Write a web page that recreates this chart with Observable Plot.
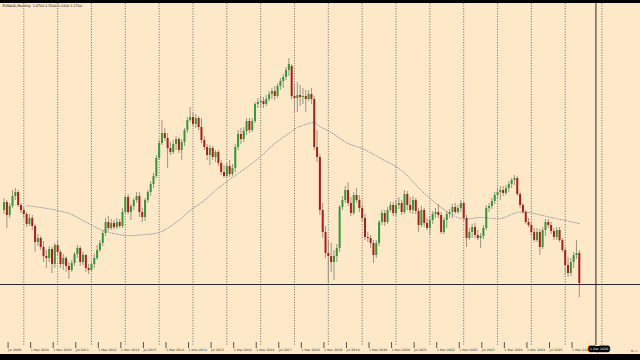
<!DOCTYPE html>
<html><head><meta charset="utf-8">
<script src="https://cdn.jsdelivr.net/npm/d3@7"></script>
<script src="https://cdn.jsdelivr.net/npm/@observablehq/plot@0.6"></script>
<style>
html,body{margin:0;padding:0;background:#000;width:640px;height:360px;overflow:hidden}
#chart{position:absolute;left:0;top:3px;width:640px;}
#chart svg{display:block}
</style></head><body><div id="chart"></div>
<script>
const title = "EURAUD,Monthly  1.4700 1.5000 1.0300 1.1700";
const firstMonth = -7; // months relative to Jan 2010 (Jun 2009)

const open = [1.90,1.98,1.85,1.94,2.04,2.08,1.95,
1.90,1.86,1.76,1.82,1.74,1.58,1.62,1.53,1.44,1.42,1.51,1.36,
1.55,1.48,1.36,1.42,1.34,1.30,1.37,1.46,1.52,1.38,1.45,1.32,
1.30,1.36,1.42,1.50,1.57,1.67,1.78,1.72,1.77,1.73,1.78,1.74,
1.88,2.03,1.88,1.94,2.00,2.04,1.88,1.83,2.00,2.08,2.16,2.24,
2.42,2.57,2.67,2.62,2.52,2.48,2.56,2.61,2.50,2.58,2.70,2.80,
2.83,2.76,2.82,2.73,2.60,2.53,2.45,2.52,2.43,2.48,2.37,2.28,
2.24,2.34,2.26,2.32,2.53,2.66,2.61,2.69,2.79,2.70,2.79,2.96,
2.98,2.99,2.96,3.01,3.06,3.09,3.04,3.14,3.19,3.23,3.30,3.34,
3.04,3.02,3.05,3.03,3.04,3.01,3.06,3.01,2.53,2.43,1.90,1.68,
1.47,1.44,1.38,1.44,1.52,1.93,2.00,2.10,1.97,1.87,2.05,2.00,
1.92,1.82,1.63,1.62,1.57,1.45,1.57,1.78,1.87,1.78,1.90,1.95,
1.87,1.95,1.97,1.88,2.06,1.95,1.90,2.00,1.89,1.75,1.90,1.77,
1.72,1.80,1.86,1.88,1.85,1.68,1.80,1.86,1.88,1.93,1.88,1.92,
1.97,1.82,1.62,1.68,1.73,1.65,1.62,1.64,1.72,1.92,1.94,1.99,
2.05,2.08,2.10,2.07,2.12,2.16,2.20,2.22,2.06,1.95,1.88,1.78,
1.75,1.68,1.60,1.68,1.53,1.70,1.78,1.75,1.69,1.63,1.70,1.60,
1.50,1.35,1.27,1.38,1.45,1.47];

const high = [2.02,2.00,1.97,2.10,2.12,2.10,1.97,
1.93,1.88,1.86,1.85,1.76,1.66,1.64,1.59,1.50,1.54,1.53,1.57,
1.60,1.50,1.46,1.44,1.38,1.40,1.48,1.55,1.54,1.48,1.46,1.36,
1.38,1.46,1.55,1.60,1.70,1.82,1.84,1.81,1.80,1.82,1.81,1.92,
2.05,2.06,1.96,2.02,2.08,2.08,1.92,2.02,2.10,2.19,2.27,2.45,
2.60,2.80,2.72,2.67,2.58,2.60,2.64,2.63,2.61,2.72,2.83,2.93,
2.87,2.86,2.84,2.82,2.64,2.56,2.55,2.54,2.50,2.50,2.40,2.35,
2.37,2.40,2.36,2.56,2.70,2.72,2.73,2.82,2.82,2.82,2.98,3.02,
3.04,3.03,3.05,3.09,3.12,3.14,3.17,3.22,3.26,3.33,3.42,3.36,
3.17,3.18,3.15,3.12,3.10,3.10,3.12,3.04,2.70,2.46,1.97,1.74,
1.60,1.57,1.50,1.56,1.95,2.04,2.14,2.18,2.03,2.08,2.12,2.05,
1.95,1.86,1.68,1.65,1.60,1.60,1.80,1.90,1.90,1.93,1.98,1.98,
2.00,2.03,2.00,2.10,2.09,2.03,2.04,2.02,1.92,1.94,1.92,1.82,
1.84,1.89,1.92,1.96,1.88,1.83,1.89,1.91,1.96,1.97,1.95,2.00,
1.99,1.85,1.72,1.76,1.77,1.70,1.67,1.75,1.95,1.97,2.02,2.08,
2.12,2.14,2.14,2.15,2.19,2.22,2.25,2.24,2.08,1.97,1.90,1.82,
1.78,1.72,1.72,1.71,1.73,1.81,1.81,1.78,1.72,1.73,1.73,1.62,
1.53,1.43,1.42,1.48,1.60,1.50];

const low = [1.86,1.72,1.82,1.92,2.00,1.93,1.87,
1.82,1.73,1.74,1.70,1.48,1.54,1.50,1.38,1.32,1.38,1.27,1.32,
1.44,1.32,1.30,1.28,1.21,1.28,1.34,1.42,1.34,1.35,1.28,1.26,
1.28,1.32,1.40,1.48,1.54,1.64,1.69,1.70,1.71,1.71,1.72,1.72,
1.86,1.86,1.80,1.90,1.97,1.83,1.78,1.79,1.97,2.04,2.12,2.22,
2.40,2.55,2.59,2.32,2.45,2.46,2.50,2.47,2.40,2.54,2.67,2.78,
2.73,2.72,2.70,2.57,2.50,2.40,2.35,2.40,2.38,2.34,2.25,2.22,
2.22,2.23,2.24,2.28,2.50,2.56,2.58,2.65,2.67,2.68,2.77,2.92,
2.92,2.92,2.94,2.99,3.01,3.00,3.02,3.10,3.12,3.20,3.24,3.01,
2.87,2.88,2.94,2.96,2.88,2.99,2.96,2.50,2.38,1.85,1.62,1.42,
1.17,1.28,1.20,1.38,1.48,1.90,1.97,1.94,1.84,1.85,1.97,1.88,
1.78,1.60,1.58,1.52,1.37,1.42,1.54,1.75,1.74,1.76,1.88,1.84,
1.84,1.91,1.85,1.86,1.90,1.87,1.86,1.86,1.68,1.73,1.73,1.70,
1.65,1.76,1.82,1.82,1.66,1.66,1.72,1.82,1.82,1.86,1.86,1.88,
1.79,1.53,1.60,1.62,1.62,1.60,1.52,1.61,1.70,1.88,1.91,1.96,
2.02,2.00,2.04,2.05,2.08,2.12,2.15,2.04,1.92,1.86,1.76,1.73,
1.64,1.58,1.58,1.45,1.51,1.64,1.72,1.66,1.60,1.60,1.58,1.48,
1.25,1.23,1.24,1.32,1.41,1.03];

const close = [1.98,1.85,1.94,2.04,2.08,1.95,1.90,
1.86,1.76,1.82,1.74,1.58,1.62,1.53,1.44,1.42,1.51,1.36,1.55,
1.48,1.36,1.42,1.34,1.30,1.37,1.46,1.52,1.38,1.45,1.32,1.30,
1.36,1.42,1.50,1.57,1.67,1.78,1.72,1.77,1.73,1.78,1.74,1.88,
2.03,1.88,1.94,2.00,2.04,1.88,1.83,2.00,2.08,2.16,2.24,2.42,
2.57,2.67,2.62,2.52,2.48,2.56,2.61,2.50,2.58,2.70,2.80,2.83,
2.76,2.82,2.73,2.60,2.53,2.45,2.52,2.43,2.48,2.37,2.28,2.24,
2.34,2.26,2.32,2.53,2.66,2.61,2.69,2.79,2.70,2.79,2.96,2.98,
2.99,2.96,3.01,3.06,3.09,3.04,3.14,3.19,3.23,3.30,3.36,3.04,
3.02,3.05,3.03,3.04,3.01,3.06,3.01,2.53,2.43,1.90,1.68,1.47,
1.44,1.38,1.44,1.52,1.93,2.00,2.10,1.97,1.87,2.05,2.00,1.92,
1.82,1.63,1.62,1.57,1.45,1.57,1.78,1.87,1.78,1.90,1.95,1.87,
1.95,1.97,1.88,2.06,1.95,1.90,2.00,1.89,1.75,1.90,1.77,1.72,
1.80,1.86,1.88,1.85,1.68,1.80,1.86,1.88,1.93,1.88,1.92,1.97,
1.82,1.62,1.68,1.73,1.65,1.62,1.64,1.72,1.92,1.94,1.99,2.05,
2.08,2.10,2.07,2.12,2.16,2.20,2.22,2.06,1.95,1.88,1.78,1.75,
1.68,1.60,1.68,1.53,1.70,1.78,1.75,1.69,1.63,1.70,1.60,1.50,
1.35,1.27,1.38,1.45,1.47,1.17];

const maMonths = [1,6,12,17,21,25,28,32,36,39,43,48,54,59,64,68,73,79,84,89,95,97,100,103,105,109,115,120,126,134,141,148,155,162,169,175,179,187,197];
const maValues = [1.95,1.93,1.90,1.86,1.80,1.74,1.70,1.67,1.65,1.65,1.66,1.68,1.78,1.90,2.00,2.10,2.21,2.33,2.44,2.57,2.69,2.73,2.76,2.78,2.74,2.68,2.57,2.52,2.43,2.30,2.10,1.93,1.82,1.83,1.82,1.88,1.88,1.83,1.77];

const yearStarts = [0,12,24,36,48,60,72,84,96,108,120,132,144,156,168,180,192,205];
const labelMonths = [-6,2,10,18,26,34,42,50,58,66,74,82,90,98,106,114,122,130,138,146,154,162,170,178,186,194];
const labelTexts = ["Jul 2009","1 Mar 2010","1 Nov 2010","Jul 2011","1 Mar 2012","1 Nov 2012","Jul 2013","1 Mar 2014","1 Nov 2014","Jul 2015","1 Mar 2016","1 Nov 2016","Jul 2017","1 Mar 2018","1 Nov 2018","Jul 2019","1 Mar 2020","1 Nov 2020","Jul 2021","1 Mar 2022","1 Nov 2022","Jul 2023","1 Mar 2024","1 Nov 2024","Jul 2025","1 Mar 2026"];
const crossPrice = 1.16;
const crossMonth = 202.9;
const crossLabel = "1 Dec 2026";

const candles = open.map((o, i) => ({m: firstMonth + i, o, h: high[i], l: low[i], c: close[i]}));
const ma = maMonths.map((m, i) => ({m, v: maValues[i]}));
const labelMap = new Map(labelMonths.map((m, i) => [m, labelTexts[i]]));

const chart = Plot.plot({
  width: 640, height: 351,
  marginLeft: 0, marginRight: 0, marginTop: 0, marginBottom: 9,
  style: {background: "#fde9c8", fontFamily: "DejaVu Sans", overflow: "visible"},
  x: {domain: [-8.26, 218.7], axis: null},
  y: {domain: [0.55, 3.97], axis: null},
  marks: [
    Plot.ruleX(yearStarts, {stroke: "#5a5a5a", strokeDasharray: "1,1.6", strokeWidth: 0.9}),
    Plot.line(ma, {x: "m", y: "v", stroke: "#8a8ea6", strokeDasharray: "1,1.6", strokeWidth: 0.9, curve: "catmull-rom"}),
    Plot.ruleX(candles, {x: "m", y1: "l", y2: "h", stroke: "#9c9484", strokeWidth: 1}),
    Plot.ruleX(candles, {x: "m", y1: "o", y2: "c", stroke: d => d.c >= d.o ? "#36963a" : "#a81f1a", strokeWidth: 2}),
    Plot.ruleY([crossPrice], {stroke: "#2a2a2a", strokeWidth: 1}),
    Plot.ruleX([crossMonth], {stroke: "#2a2a2a", strokeWidth: 1}),
    Plot.axisX({ticks: labelMonths, tickFormat: d => labelMap.get(d), tickSize: 6, tickPadding: 0, dy: -3, dx: 1.2,
      textAnchor: "start", fontSize: 3.2, stroke: "#555", fill: "#333"}),
    Plot.text([{m: crossMonth, t: crossLabel}], {x: "m", text: "t", frameAnchor: "bottom", dy: 4.5, dx: 3, fontSize: 3.1,
      fill: "#fff", stroke: "#000", strokeWidth: 4.5, paintOrder: "stroke"}),
    Plot.text([title], {frameAnchor: "top-left", dx: 2, dy: 1.5, lineAnchor: "top", textAnchor: "start", fontSize: 3.3, fill: "#111"})
  ]
});
document.getElementById("chart").appendChild(chart);
</script>
</body></html>
